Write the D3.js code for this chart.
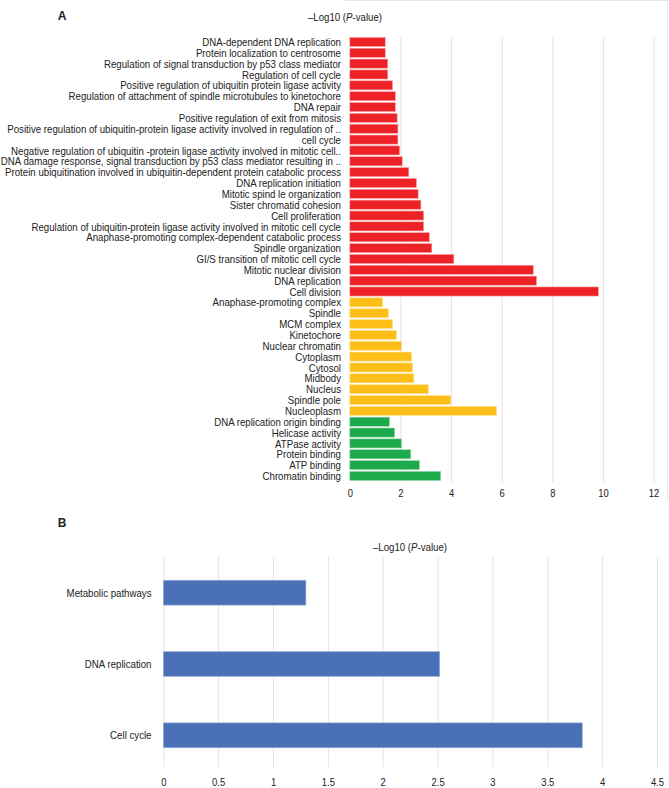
<!DOCTYPE html>
<html><head><meta charset="utf-8">
<script src="https://cdn.jsdelivr.net/npm/d3@7"></script>
<style>
body{margin:0;background:#fff;}
svg text{font-family:"Liberation Sans",Arial,sans-serif;fill:#222;}
</style></head>
<body><svg id="c" width="669" height="788"></svg>
<script>
const bpTerms = ["DNA-dependent DNA replication","Protein localization to centrosome","Regulation of signal transduction by p53 class mediator","Regulation of cell cycle","Positive regulation of ubiquitin protein ligase activity","Regulation of attachment of spindle microtubules to kinetochore","DNA repair","Positive regulation of exit from mitosis","Positive regulation of ubiquitin-protein ligase activity involved in regulation of ..","cell cycle","Negative regulation of ubiquitin -protein ligase activity involved in mitotic cell..","DNA damage response, signal transduction by p53 class mediator resulting in ..","Protein ubiquitination involved in ubiquitin-dependent protein catabolic process","DNA replication initiation","Mitotic spind le organization","Sister chromatid cohesion","Cell proliferation","Regulation of ubiquitin-protein ligase activity involved in mitotic cell cycle","Anaphase-promoting complex-dependent catabolic process","Spindle organization","GI/S transition of mitotic cell cycle","Mitotic nuclear division","DNA replication","Cell division"];
const bpValues = [1.40,1.40,1.50,1.50,1.69,1.80,1.80,1.87,1.90,1.90,1.97,2.07,2.33,2.63,2.70,2.81,2.92,2.92,3.14,3.24,4.11,7.25,7.38,9.82];
const ccTerms = ["Anaphase-promoting complex","Spindle","MCM complex","Kinetochore","Nuclear chromatin","Cytoplasm","Cytosol","Midbody","Nucleus","Spindle pole","Nucleoplasm"];
const ccValues = [1.30,1.53,1.69,1.84,2.04,2.44,2.48,2.53,3.10,3.99,5.80];
const mfTerms = ["DNA replication origin binding","Helicase activity","ATPase activity","Protein binding","ATP binding","Chromatin binding"];
const mfValues = [1.57,1.77,2.04,2.41,2.75,3.59];
const topTicks = [0,2,4,6,8,10,12];
const keggTerms = ["Metabolic pathways","DNA replication","Cell cycle"];
const keggValues = [1.30,2.52,3.82];
const bottomTicks = [0,0.5,1,1.5,2,2.5,3,3.5,4,4.5];

const colors = {bp:"#ec2227", cc:"#fdbf17", mf:"#1daa4d", kegg:"#4a71b7"};
const strokes = {bp:"#f7a7a9", cc:"#fee3a0", mf:"#9fd9b0", kegg:"#a9bde0"};
const NARROW = 0.82;

const rows = [];
bpTerms.forEach((t,i)=>rows.push({term:t,value:bpValues[i],g:"bp"}));
ccTerms.forEach((t,i)=>rows.push({term:t,value:ccValues[i],g:"cc"}));
mfTerms.forEach((t,i)=>rows.push({term:t,value:mfValues[i],g:"mf"}));

const svg = d3.select("#c");
svg.append("line").attr("x1",345).attr("x2",669).attr("y1",0.5).attr("y2",0.5).attr("stroke","#e6e6e6");
svg.append("line").attr("x1",667.5).attr("x2",667.5).attr("y1",0).attr("y2",500).attr("stroke","#eeeeee");

function narrowText(sel, x, y){
  return sel.attr("transform",(d,i)=>`translate(${typeof x==="function"?x(d,i):x},${typeof y==="function"?y(d,i):y}) scale(${NARROW},1)`);
}
function title(x,y){
  const t = svg.append("text").attr("transform",`translate(${x},${y}) scale(${NARROW},1)`)
    .attr("text-anchor","middle").attr("font-size",11.8);
  t.append("tspan").text("\u2013Log10 (");
  t.append("tspan").attr("font-style","italic").text("P");
  t.append("tspan").text("-value)");
}

// ---------- Panel A ----------
const xA = d3.scaleLinear().domain([0,12]).range([349.8,653.6]);
const yA = d3.scaleBand().domain(rows.map((d,i)=>i)).range([36.5,481.4]).paddingInner(0.16).paddingOuter(0.08);
const gA = svg.append("g");
gA.selectAll("line.grid").data(topTicks.filter(t=>t>0)).join("line")
  .attr("x1",d=>xA(d)+0.5).attr("x2",d=>xA(d)+0.5).attr("y1",37).attr("y2",482)
  .attr("stroke","#e3e3e3").attr("stroke-width",1);
gA.selectAll("rect").data(rows).join("rect")
  .attr("x",xA(0)).attr("y",(d,i)=>yA(i)).attr("width",d=>xA(d.value)-xA(0)).attr("height",yA.bandwidth())
  .attr("fill",d=>colors[d.g]).attr("stroke",d=>strokes[d.g]).attr("stroke-width",0.6);
narrowText(gA.selectAll("text.lab").data(rows).join("text").attr("class","lab"), 341, (d,i)=>yA(i)+yA.bandwidth()/2)
  .attr("dy","0.35em").attr("text-anchor","end").attr("font-size",11.8).text(d=>d.term);
const axA = gA.append("g").attr("transform","translate(0,482)")
  .call(d3.axisBottom(xA).tickValues(topTicks).tickSize(0).tickPadding(7).tickFormat(d3.format("d")));
axA.select(".domain").remove();
axA.selectAll("text").attr("font-size",11.5).attr("font-family",null).attr("fill","#222")
  .attr("transform",`scale(${NARROW},1)`);
svg.append("text").attr("x",62).attr("y",20).attr("text-anchor","middle").attr("font-weight","bold")
  .attr("font-size",12).text("A");
title(345,21);

// ---------- Panel B ----------
const xB = d3.scaleLinear().domain([0,4.5]).range([163.3,657]);
const yB = d3.scaleBand().domain(keggTerms).range([557,771]).paddingInner(0.65).paddingOuter(0.325);
const gB = svg.append("g");
gB.selectAll("line.grid").data(bottomTicks).join("line")
  .attr("x1",d=>xB(d)+0.5).attr("x2",d=>xB(d)+0.5).attr("y1",557).attr("y2",767)
  .attr("stroke","#e3e3e3").attr("stroke-width",1);
gB.selectAll("rect").data(keggTerms).join("rect")
  .attr("x",xB(0)).attr("y",d=>yB(d)).attr("width",(d,i)=>xB(keggValues[i])-xB(0)).attr("height",yB.bandwidth())
  .attr("fill",colors.kegg).attr("stroke",strokes.kegg).attr("stroke-width",0.6);
narrowText(gB.selectAll("text.lab").data(keggTerms).join("text").attr("class","lab"), 151.5, d=>yB(d)+yB.bandwidth()/2)
  .attr("dy","0.35em").attr("text-anchor","end").attr("font-size",11.8).text(d=>d);
const axB = gB.append("g").attr("transform","translate(0,767)")
  .call(d3.axisBottom(xB).tickValues(bottomTicks).tickSize(0).tickPadding(11).tickFormat(d=>String(d)));
axB.select(".domain").remove();
axB.selectAll("text").attr("font-size",11.5).attr("font-family",null).attr("fill","#222")
  .attr("transform",`scale(${NARROW},1)`);
svg.append("text").attr("x",62).attr("y",527).attr("text-anchor","middle").attr("font-weight","bold")
  .attr("font-size",12).text("B");
title(410,551);
</script></body></html>
